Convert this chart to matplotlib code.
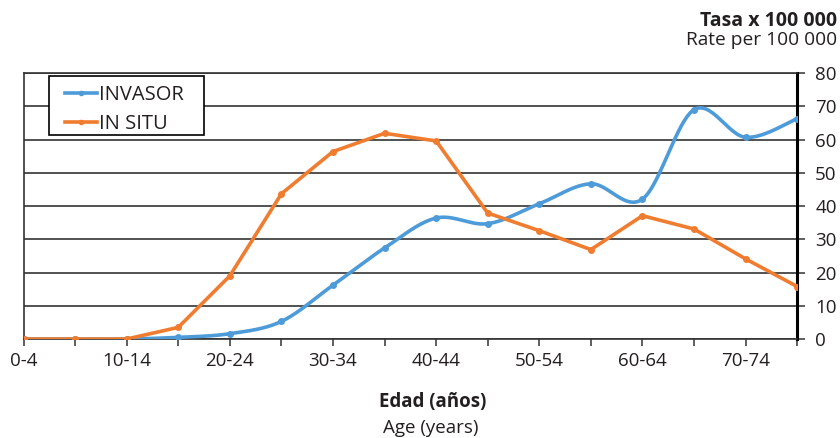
import numpy as np
import matplotlib
matplotlib.use("Agg")
import matplotlib.pyplot as plt
from matplotlib.patches import Rectangle

plt.rcParams['font.family'] = ['Open Sans', 'DejaVu Sans']

# age groups and rates per 100 000
ages = ['0-4', '5-9', '10-14', '15-19', '20-24', '25-29', '30-34', '35-39',
        '40-44', '45-49', '50-54', '55-59', '60-64', '65-69', '70-74', '75-79']
invasor = [0, 0, 0, 0.5, 1.6, 5.3, 16.2, 27.4, 36.4, 34.7, 40.7, 46.7, 42.1, 69.0, 60.7, 66.3]
in_situ = [0, 0, 0, 3.5, 19.0, 43.7, 56.4, 61.9, 59.6, 37.9, 32.6, 26.9, 37.1, 33.1, 24.1, 15.8]

blue = '#4d9bd8'
orange = '#f07c30'
txt = '#231f20'


def smooth(x, y, n=30):
    # excel style smoothed line (bezier through the points)
    x = np.asarray(x, float)
    y = np.asarray(y, float)
    px = np.concatenate([[x[0]], x, [x[-1]]])
    py = np.concatenate([[y[0]], y, [y[-1]]])
    xs, ys = [], []
    t = np.linspace(0, 1, n)
    for i in range(len(x) - 1):
        p0 = np.array([x[i], y[i]])
        p3 = np.array([x[i + 1], y[i + 1]])
        p1 = p0 + (np.array([px[i + 2], py[i + 2]]) - np.array([px[i], py[i]])) / 6
        p2 = p3 - (np.array([px[i + 3], py[i + 3]]) - np.array([px[i + 1], py[i + 1]])) / 6
        b = ((1 - t) ** 3)[:, None] * p0 + (3 * (1 - t) ** 2 * t)[:, None] * p1 \
            + (3 * (1 - t) * t ** 2)[:, None] * p2 + (t ** 3)[:, None] * p3
        xs.extend(b[:, 0])
        ys.extend(b[:, 1])
    return np.array(xs), np.array(ys)


fig = plt.figure(figsize=(8.4, 4.38), dpi=100)
ax = fig.add_axes([0.028, 0.226, 0.921, 0.607])

xpos = np.arange(len(ages))

sx, sy = smooth(xpos, invasor)
ax.plot(sx, sy, color=blue, linewidth=2.6, solid_capstyle='round', zorder=3)
ax.plot(xpos, invasor, 'o', color=blue, markersize=4, zorder=3)
ax.plot(xpos, in_situ, color=orange, linewidth=2.6, marker='o', markersize=4, zorder=3)

# legend: own box, entries without frame
box = Rectangle((0.033, 0.767), 0.200, 0.222, transform=ax.transAxes,
                facecolor='white', edgecolor='black', linewidth=1.2, zorder=4)
ax.add_patch(box)
ax.plot([], [], color=blue, linewidth=2.6, marker='o', markersize=3, label='INVASOR')
ax.plot([], [], color=orange, linewidth=2.6, marker='o', markersize=3, label='IN SITU')
h, l = ax.get_legend_handles_labels()
leg = ax.legend(h[-2:], l[-2:], loc='upper left', bbox_to_anchor=(0.054, 0.955),
                fontsize=14.5, frameon=False, handlelength=1.55, handletextpad=0.1,
                borderpad=0, labelspacing=0.45, borderaxespad=0)
leg.set_zorder(5)
for t in leg.get_texts():
    t.set_color(txt)

ax.set_xlim(0, len(ages) - 1)
ax.set_ylim(0, 80)
ax.set_yticks(range(0, 81, 10))
ax.yaxis.tick_right()
ax.grid(axis='y', color='#333333', linewidth=1.2)
ax.set_axisbelow(True)

ax.set_xticks(xpos)
ax.set_xticklabels([a if i % 2 == 0 else '' for i, a in enumerate(ages)])

for s in ['top', 'left', 'bottom']:
    ax.spines[s].set_color('#333333')
    ax.spines[s].set_linewidth(1.2)
ax.spines['right'].set_color('black')
ax.spines['right'].set_linewidth(2.2)

ax.tick_params(axis='x', length=5, width=1.1, color='#333333', labelsize=13.5,
               pad=4, labelcolor=txt)
ax.tick_params(axis='y', length=6, width=1.1, color='#333333', labelsize=13.5,
               pad=7, labelcolor=txt)

fig.text(0.996, 0.952, 'Tasa x 100 000', ha='right', va='center',
         fontsize=14, fontweight='bold', color=txt)
fig.text(0.996, 0.908, 'Rate per 100 000', ha='right', va='center',
         fontsize=13.8, color=txt)
fig.text(0.515, 0.082, 'Edad (años)', ha='center', va='center',
         fontsize=13.5, fontweight='bold', color=txt)
fig.text(0.513, 0.023, 'Age (years)', ha='center', va='center',
         fontsize=13.5, color=txt)

fig.savefig('out.png', dpi=100)
